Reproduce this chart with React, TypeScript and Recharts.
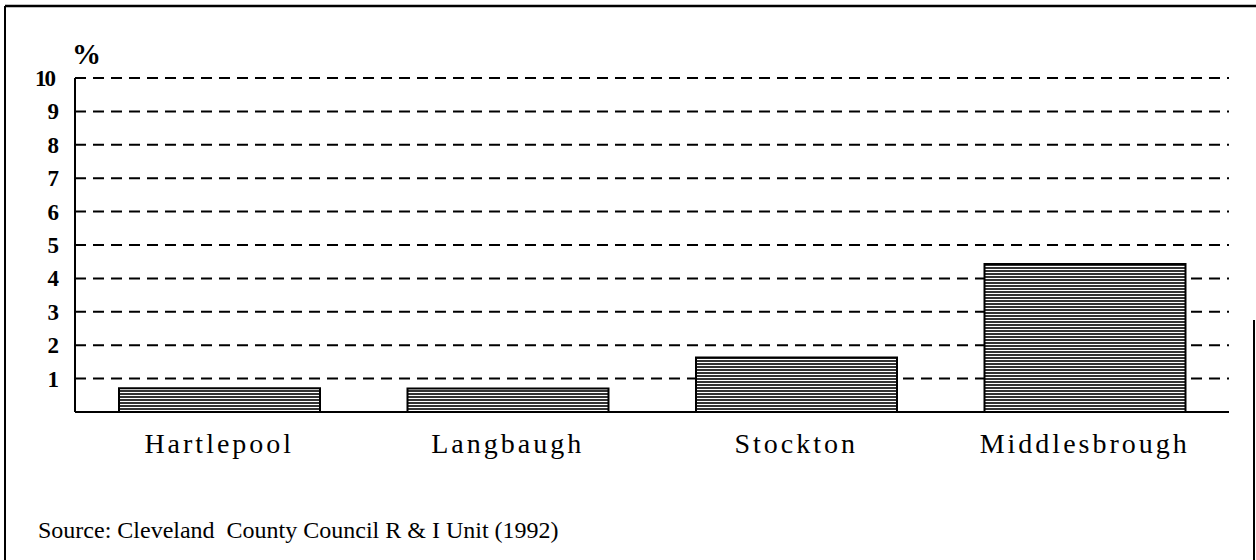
import React from "react";
import { BarChart, Bar, XAxis, YAxis, CartesianGrid } from "recharts";

const categories = ["Hartlepool", "Langbaugh", "Stockton", "Middlesbrough"];
const values = [0.71, 0.7, 1.63, 4.43];
const yTicks = [1, 2, 3, 4, 5, 6, 7, 8, 9, 10];
const unitLabel = "%";
const sourceText = "Source: Cleveland  County Council R & I Unit (1992)";

const data = categories.map((c, i) => ({ name: c, value: values[i] }));

const SERIF = "'Liberation Serif', 'Times New Roman', serif";

const YTick = (props: any) => {
  const { y, payload } = props;
  const isTen = payload.value === 10;
  return (
    <text
      x={isTen ? 54 : 59}
      y={y}
      dy={8}
      textAnchor="end"
      fontFamily={SERIF}
      fontWeight="bold"
      fontSize={23}
      letterSpacing={isTen ? -2 : 0}
      fill="#000"
    >
      {payload.value}
    </text>
  );
};

const XTick = (props: any) => {
  const { x, y, payload } = props;
  return (
    <text
      x={x}
      y={y}
      dy={33}
      textAnchor="middle"
      fontFamily={SERIF}
      fontSize={28}
      letterSpacing={3}
      fill="#000"
    >
      {payload.value}
    </text>
  );
};

export default function App() {
  return (
    <div
      style={{
        position: "absolute",
        left: 0,
        top: 0,
        width: 1256,
        height: 560,
        background: "#fff",
        overflow: "hidden",
      }}
    >
      <BarChart
        width={1256}
        height={560}
        data={data}
        margin={{ top: 78, right: 27, left: 0, bottom: 108 }}
        barSize={201}
      >
        <defs>
          <pattern id="hatch" width="6" height="3" patternUnits="userSpaceOnUse">
            <rect x="0" y="0" width="6" height="3" fill="#fff" />
            <rect x="0" y="0" width="6" height="2" fill="#333" />
          </pattern>
        </defs>
        <CartesianGrid
          vertical={false}
          stroke="#000"
          strokeWidth={2}
          strokeDasharray="11 7"
        />
        <XAxis
          dataKey="name"
          height={40}
          axisLine={{ stroke: "#000", strokeWidth: 2 }}
          tickLine={false}
          tick={<XTick />}
          interval={0}
        />
        <YAxis
          width={75}
          domain={[0, 10]}
          ticks={yTicks}
          axisLine={{ stroke: "#000", strokeWidth: 2 }}
          tickLine={false}
          tick={<YTick />}
          interval={0}
        />
        <Bar
          dataKey="value"
          fill="url(#hatch)"
          stroke="#000"
          strokeWidth={2}
          isAnimationActive={false}
        />
      </BarChart>
      <svg
        width={1256}
        height={560}
        style={{ position: "absolute", left: 0, top: 0, pointerEvents: "none" }}
      >
        <line x1={5} y1={6} x2={5} y2={560} stroke="#000" strokeWidth={2} />
        <line x1={5} y1={6} x2={1256} y2={6} stroke="#000" strokeWidth={2.5} />
        <line x1={1254} y1={320} x2={1254} y2={560} stroke="#000" strokeWidth={2} />
        <text
          x={72}
          y={64}
          fontFamily={SERIF}
          fontWeight="bold"
          fontSize={29}
          fill="#000"
        >
          {unitLabel}
        </text>
        <text
          x={38}
          y={538}
          fontFamily={SERIF}
          fontSize={24}
          fill="#000"
          style={{ whiteSpace: "pre" }}
        >
          {sourceText}
        </text>
      </svg>
    </div>
  );
}
